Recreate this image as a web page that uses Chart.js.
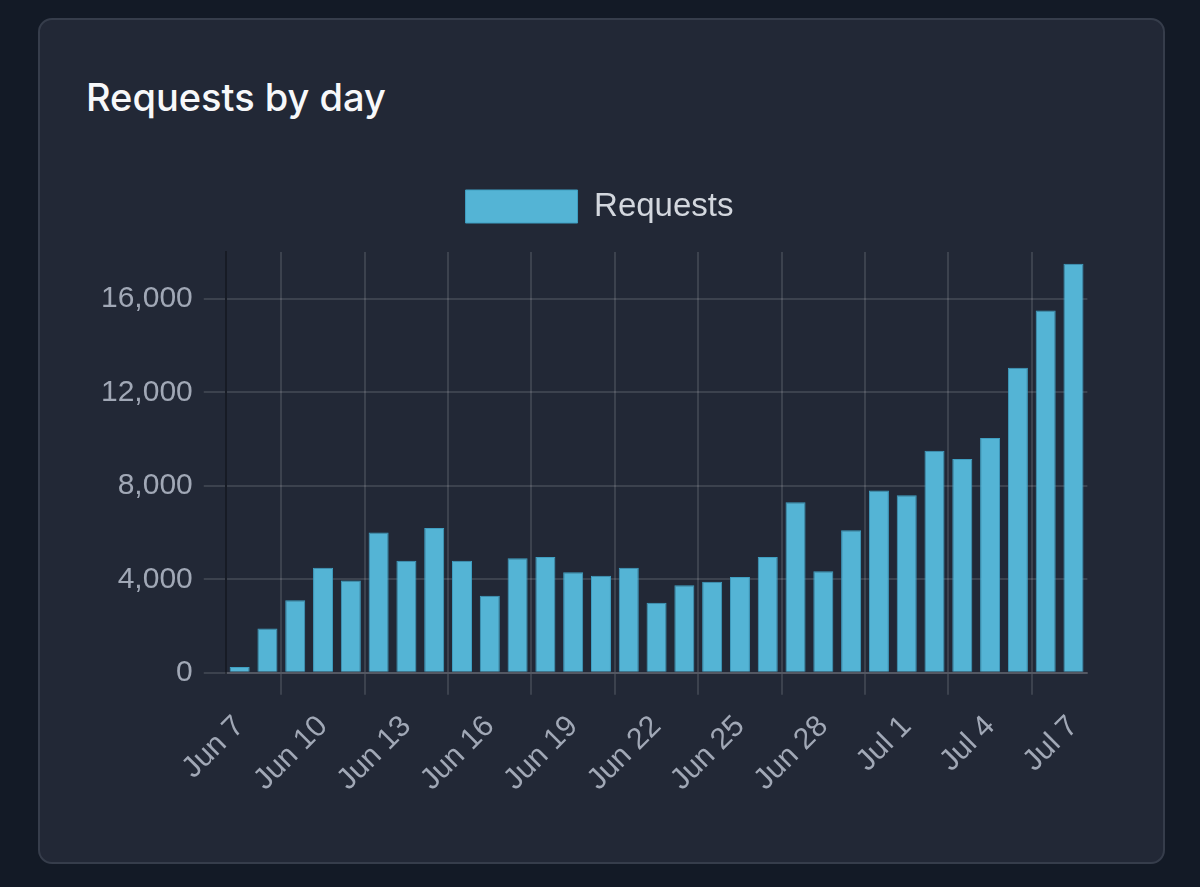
<!DOCTYPE html>
<html lang="en">
<head>
    <meta charset="UTF-8">
    <title>Requests by day</title>
    <script src="https://cdn.jsdelivr.net/npm/chart.js"></script>
    <style>
        body {
            margin: 0;
            background: #131a26;
            width: 1200px;
            height: 887px;
            overflow: hidden;
        }

        .card {
            position: absolute;
            left: 38px;
            top: 18px;
            width: 1123px;
            height: 842px;
            background: #222836;
            border: 2px solid #363d4b;
            border-radius: 14px;
        }

        .card h2 {
            position: absolute;
            left: 46px;
            top: 53px;
            margin: 0;
            font-family: 'Inter', sans-serif;
            font-weight: 500;
            font-size: 38px;
            line-height: 48px;
            color: #f7f8fa;
        }

        .chart-box {
            position: absolute;
            left: 90px;
            top: 162px;
            width: 1023px;
            height: 650px;
        }
    </style>
</head>
<body>
    <div class="card">
        <h2>Requests by day</h2>
    </div>
    <div class="chart-box">
        <canvas id="barChart"></canvas>
    </div>

    <script>
        // data
        const days = ['Jun 7', 'Jun 8', 'Jun 9', 'Jun 10', 'Jun 11', 'Jun 12', 'Jun 13', 'Jun 14',
            'Jun 15', 'Jun 16', 'Jun 17', 'Jun 18', 'Jun 19', 'Jun 20', 'Jun 21', 'Jun 22',
            'Jun 23', 'Jun 24', 'Jun 25', 'Jun 26', 'Jun 27', 'Jun 28', 'Jun 29', 'Jun 30',
            'Jul 1', 'Jul 2', 'Jul 3', 'Jul 4', 'Jul 5', 'Jul 6', 'Jul 7'];
        const requests = [250, 1900, 3100, 4500, 3950, 6000, 4800, 6200,
            4800, 3300, 4900, 4950, 4300, 4150, 4500, 3000,
            3750, 3900, 4100, 4950, 7300, 4350, 6100, 7800,
            7600, 9500, 9150, 10050, 13050, 15500, 17500];
        const yTicks = [0, 4000, 8000, 12000, 16000];

        const gridColor = 'rgba(255, 255, 255, 0.12)';
        const tickColor = '#a1a8b6';

        // extra room between legend and plot
        const legendMargin = {
            id: 'legendMargin',
            beforeInit(chart) {
                const fit = chart.legend.fit;
                chart.legend.fit = function () {
                    fit.bind(chart.legend)();
                    this.height += 19;
                };
            }
        };

        const ctx = document.getElementById('barChart').getContext('2d');
        new Chart(ctx, {
            type: 'bar',
            data: {
                labels: days,
                datasets: [{
                    label: 'Requests',
                    data: requests,
                    backgroundColor: '#54b4d5',
                    borderColor: '#3f9fc2',
                    borderWidth: 1
                }]
            },
            options: {
                responsive: true,
                maintainAspectRatio: false,
                animation: false,
                layout: { padding: { right: 4 } },
                scales: {
                    x: {
                        grid: { color: gridColor, lineWidth: 2, tickLength: 22 },
                        border: { color: gridColor, width: 2 },
                        ticks: {
                            color: tickColor,
                            font: { family: 'Liberation Sans', size: 30 },
                            minRotation: 45,
                            maxRotation: 45,
                            maxTicksLimit: 12,
                            padding: 14
                        }
                    },
                    y: {
                        min: 0,
                        max: 18000,
                        afterBuildTicks: function (scale) {
                            scale.ticks = yTicks.map(v => ({ value: v }));
                        },
                        grid: { color: gridColor, lineWidth: 2, tickLength: 22 },
                        border: { color: 'rgba(0, 0, 0, 0.3)', width: 2 },
                        ticks: {
                            color: tickColor,
                            font: { family: 'Liberation Sans', size: 30 },
                            padding: 11,
                            callback: function (value) {
                                return value.toLocaleString('en-US');
                            }
                        }
                    }
                },
                plugins: {
                    legend: {
                        labels: {
                            color: '#d3d7de',
                            font: { family: 'Liberation Sans', size: 33 },
                            boxWidth: 112,
                            boxHeight: 33,
                            padding: 28
                        }
                    },
                    tooltip: { enabled: false }
                }
            },
            plugins: [legendMargin]
        });
    </script>
</body>
</html>
